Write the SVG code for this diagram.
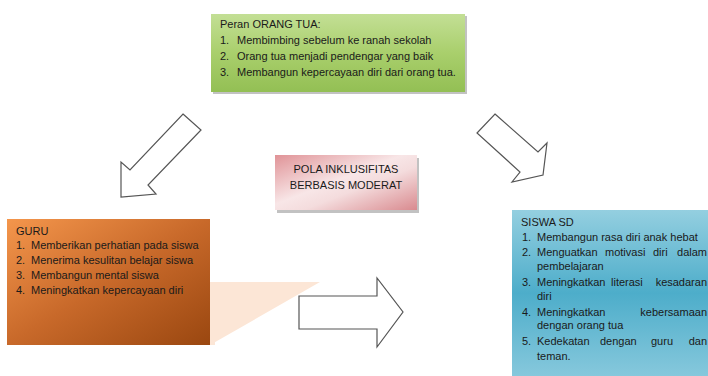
<svg xmlns="http://www.w3.org/2000/svg" width="708" height="376" viewBox="0 0 708 376">
<defs>
<linearGradient id="gGreen" x1="0" y1="0" x2="0" y2="1">
<stop offset="0" stop-color="#C3DF95"/><stop offset="0.5" stop-color="#A9CF6C"/><stop offset="1" stop-color="#93BF54"/>
</linearGradient>
<linearGradient id="gOrange" x1="0" y1="0" x2="1" y2="1">
<stop offset="0" stop-color="#F4964C"/><stop offset="0.5" stop-color="#C8692A"/><stop offset="1" stop-color="#9A4710"/>
</linearGradient>
<linearGradient id="gPink" x1="0" y1="0" x2="1" y2="1">
<stop offset="0" stop-color="#E09397"/><stop offset="0.45" stop-color="#F8E6E7"/><stop offset="0.6" stop-color="#F4DCDD"/><stop offset="1" stop-color="#D98A8F"/>
</linearGradient>
<linearGradient id="gBlue" x1="0" y1="0" x2="0" y2="1">
<stop offset="0" stop-color="#94CFE0"/><stop offset="0.5" stop-color="#4DADCA"/><stop offset="1" stop-color="#86C8DC"/>
</linearGradient>
<style>
text{font-family:"Liberation Sans",Arial,sans-serif;font-size:11px;fill:#1a1a1a}
.arrow{fill:#fff;stroke:#555;stroke-width:1.2;stroke-linejoin:miter}
.shadow{fill:#9a9a9a;opacity:0.6}
</style>
</defs>

<g id="peach-fill">
<polygon points="210,282 320,282 210,345" fill="#FCE6D6"/>
<rect x="210" y="282" width="5" height="63" fill="#FCE6D6"/>
</g>

<g id="connectors">
<polygon class="arrow" points="183,114 201,130 148,185 156,194 121,197 121,162 130,170"/>
<polygon class="arrow" points="495,114 538,152 547,143 543,175 512,182 520,172 477,133"/>
<polygon class="arrow" points="299,296 377,296 377,278 403,312 377,347 377,329 299,329"/>
</g>

<g id="orang-tua">
<rect x="213" y="16" width="254" height="78" class="shadow"/>
<rect x="211" y="14" width="254" height="78" fill="url(#gGreen)"/>
<text x="220" y="28">Peran ORANG TUA:</text>
<text x="220" y="44">1.</text><text x="237" y="44">Membimbing sebelum ke ranah sekolah</text>
<text x="220" y="60">2.</text><text x="237" y="60">Orang tua menjadi pendengar yang baik</text>
<text x="220" y="76">3.</text><text x="237" y="76">Membangun kepercayaan diri dari orang tua.</text>
</g>

<g id="pola">
<rect x="277" y="158" width="142" height="55" class="shadow"/>
<rect x="275" y="155" width="142" height="55" fill="url(#gPink)"/>
<text x="346" y="173" text-anchor="middle">POLA INKLUSIFITAS</text>
<text x="346" y="189" text-anchor="middle">BERBASIS MODERAT</text>
</g>

<g id="guru">
<rect x="7" y="219" width="203" height="126" fill="url(#gOrange)"/>
<text x="16" y="235">GURU</text>
<text x="16" y="249">1.</text><text x="31" y="249">Memberikan perhatian pada siswa</text>
<text x="16" y="264">2.</text><text x="31" y="264">Menerima kesulitan belajar siswa</text>
<text x="16" y="279">3.</text><text x="31" y="279">Membangun mental siswa</text>
<text x="16" y="294">4.</text><text x="31" y="294">Meningkatkan kepercayaan diri</text>
</g>

<g id="siswa-sd">
<rect x="512" y="210" width="196" height="166" fill="url(#gBlue)"/>
<text x="521" y="226">SISWA SD</text>
<text x="522" y="241">1.</text><text x="537" y="241">Membangun rasa diri anak hebat</text>
<text x="522" y="256">2.</text><text x="537" y="256">Menguatkan</text><text x="605" y="256">motivasi</text><text x="653" y="256">diri</text><text x="707" y="256" text-anchor="end">dalam</text>
<text x="537" y="270">pembelajaran</text>
<text x="522" y="286">3.</text><text x="537" y="286">Meningkatkan</text><text x="611" y="286">literasi</text><text x="707" y="286" text-anchor="end">kesadaran</text>
<text x="537" y="300">diri</text>
<text x="522" y="316">4.</text><text x="537" y="316">Meningkatkan</text><text x="707" y="316" text-anchor="end">kebersamaan</text>
<text x="537" y="329">dengan orang tua</text>
<text x="522" y="345">5.</text><text x="537" y="345">Kedekatan</text><text x="600" y="345">dengan</text><text x="651" y="345">guru</text><text x="707" y="345" text-anchor="end">dan</text>
<text x="537" y="360">teman.</text>
</g>
</svg>
